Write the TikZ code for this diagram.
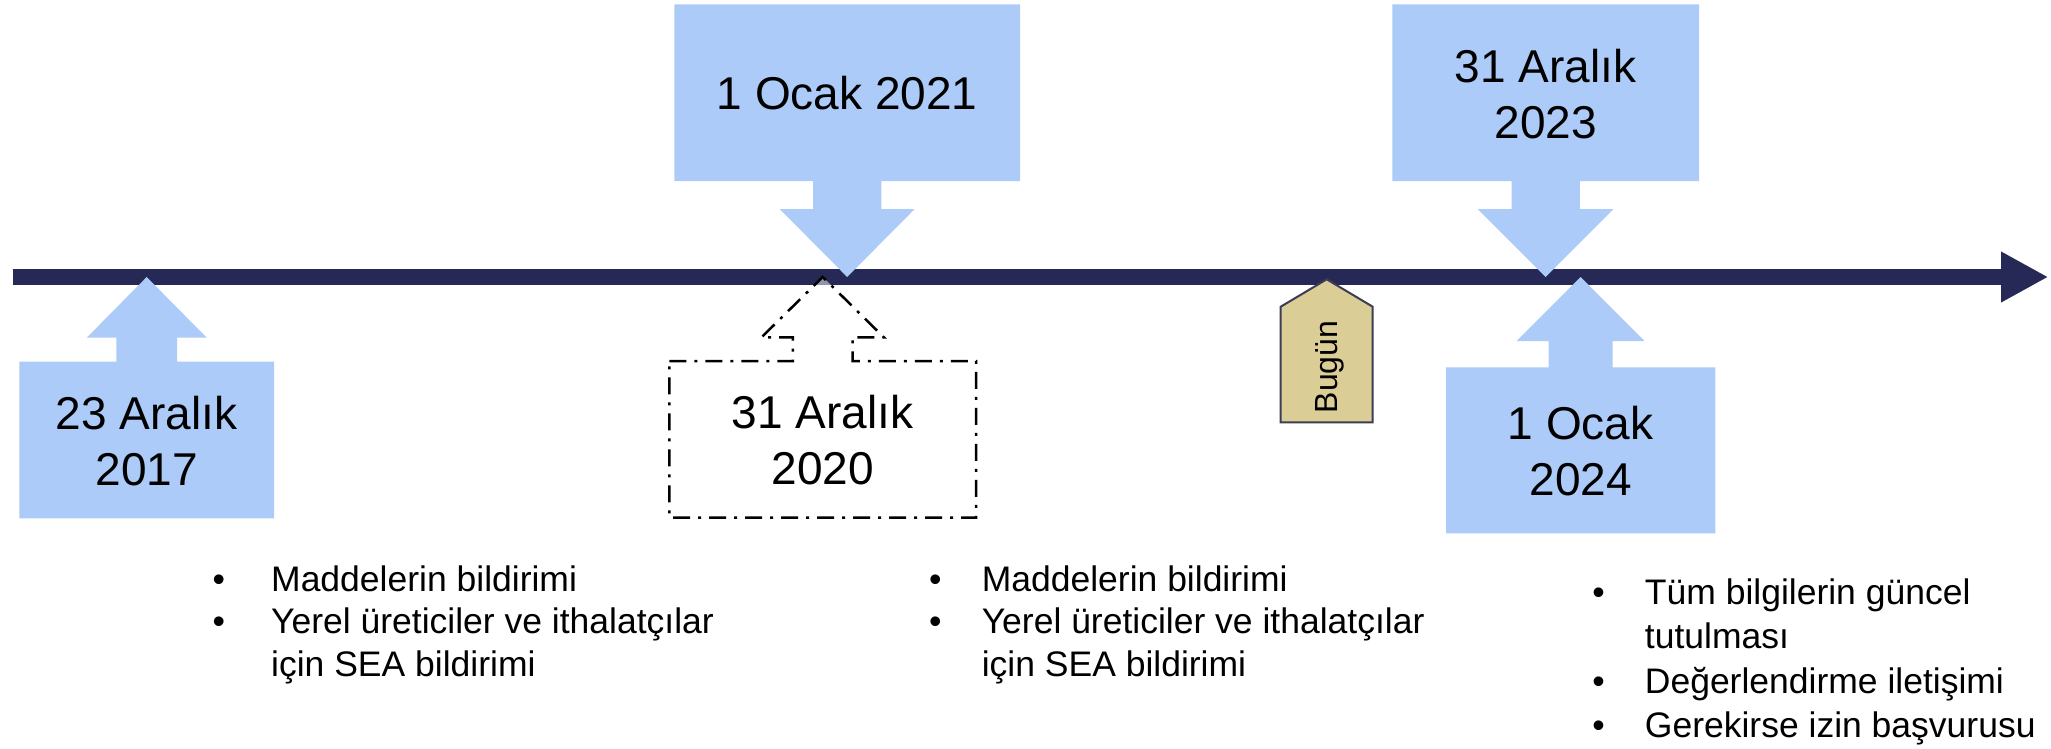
\documentclass[tikz,border=0pt]{standalone}
\usepackage{fontspec}
\setmainfont{Liberation Sans}
\usetikzlibrary{arrows.meta}

\definecolor{calloutblue}{RGB}{172,203,248}
\definecolor{timelinenavy}{RGB}{38,41,85}
\definecolor{todaytan}{RGB}{219,205,150}
\definecolor{todayedge}{RGB}{60,60,85}

\tikzset{
	datetext/.style={align=center, inner sep=0pt, font=\fontsize{46}{56}\selectfont},
	listtext/.style={anchor=base west, inner sep=0pt, font=\fontsize{35.5}{42.5}\selectfont},
}

\begin{document}
\begin{tikzpicture}[x=1pt, y=-1pt]

	% keep the whole slide as canvas
	\useasboundingbox (0,0) rectangle (2051,748);
	% height of the time line
	\def\ty{277}
	% coordinates for the ends of the time line
	\coordinate (lineStart) at (12.7,\ty);
	\coordinate (lineEnd) at (2048.3,\ty);

	%macro to draw a date box with its arrow onto the time line
	% #2 centre, #3 half width, #4 box side at the line, #5 far side, #6 half stem, #7 half head, #8 base of head
	\newcommand{\dateCallout}[8][]{
		\path[#1] (#2-#3,#4) -- (#2-#6,#4) -- (#2-#6,#8) -- (#2-#7,#8) -- (#2,\ty) -- (#2+#7,#8) -- (#2+#6,#8) -- (#2+#6,#4) -- (#2+#3,#4) -- (#2+#3,#5) -- (#2-#3,#5) -- cycle;
	}

	%TIME LINE FIRST, THE CALLOUTS GO OVER IT
	\draw[timelinenavy, line width=15.7pt, -{Triangle[length=47.3pt, width=47.4pt]}] (lineStart) -- (lineEnd);

	% 23 Aralik 2017
	\dateCallout[fill=calloutblue]{146.7}{127.4}{361.7}{518.3}{30.3}{60}{337.7}
	\node[datetext] (dec2017) at (146.7,441) {23 Aralık\\2017};

	% 31 Aralik 2020, only outlined
	\dateCallout[draw=black, line width=2.5pt, dash pattern=on 17pt off 8pt on 3pt off 8pt, fill=white, fill opacity=0.5]{822.7}{153.4}{361}{517.7}{29.8}{61.2}{337.3}
	\node[datetext] (dec2020) at (822.7,440.4) {31 Aralık\\2020};

	% 1 Ocak 2021
	\dateCallout[fill=calloutblue]{847.2}{172.9}{181}{4.3}{34.2}{67.5}{209}
	\node[datetext] (jan2021) at (847.2,92.6) {1 Ocak 2021};

	% 31 Aralik 2023
	\dateCallout[fill=calloutblue]{1545.7}{153.4}{181}{4.3}{34.2}{68}{209}
	\node[datetext] (dec2023) at (1545.7,94) {31 Aralık\\2023};

	% 1 Ocak 2024
	\dateCallout[fill=calloutblue]{1580.7}{134.7}{367.3}{533.3}{32}{64}{341}
	\node[datetext] (jan2024) at (1580.7,451.3) {1 Ocak\\2024};

	% today marker
	\draw[fill=todaytan, draw=todayedge, line width=2pt] (1280.7,422.3) -- (1280.7,306.7) -- (1326.7,279.3) -- (1372.7,306.7) -- (1372.7,422.3) -- cycle;
	\node[rotate=90, inner sep=0pt, font=\fontsize{32}{38}\selectfont] (today) at (1330,367) {Bugün};

	% what has to be done at each date
	\node[listtext] (tasks2017) at (212.3,591) {\begin{tabular}[t]{@{}p{58.7pt}@{}l@{}}•&Maddelerin bildirimi\\•&Yerel üreticiler ve ithalatçılar\\&için SEA bildirimi\end{tabular}};
	\node[listtext] (tasks2020) at (928.8,591) {\begin{tabular}[t]{@{}p{52.8pt}@{}l@{}}•&Maddelerin bildirimi\\•&Yerel üreticiler ve ithalatçılar\\&için SEA bildirimi\end{tabular}};
	\node[listtext, font=\fontsize{35.5}{44.5}\selectfont] (tasks2024) at (1592.1,604) {\begin{tabular}[t]{@{}p{52.6pt}@{}l@{}}•&Tüm bilgilerin güncel\\&tutulması\\•&Değerlendirme iletişimi\\•&Gerekirse izin başvurusu\end{tabular}};

\end{tikzpicture}
\end{document}
